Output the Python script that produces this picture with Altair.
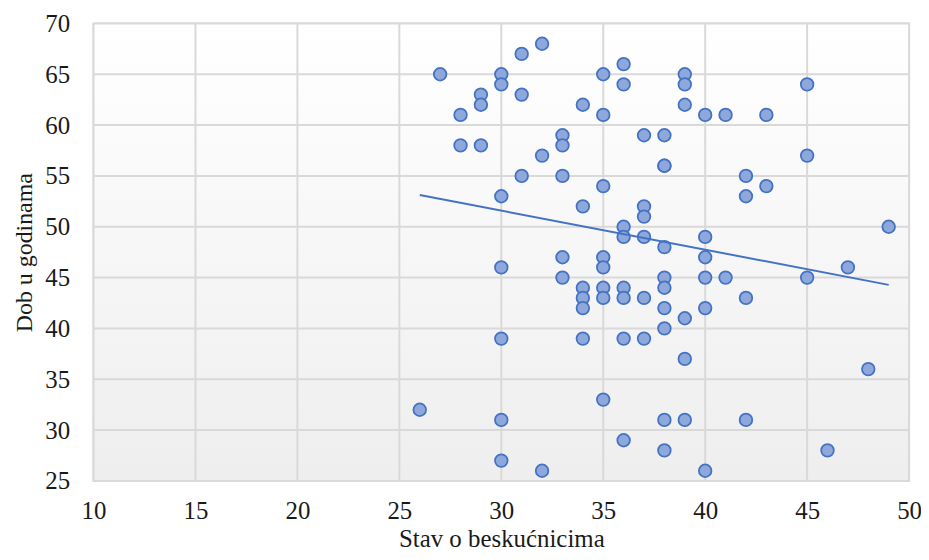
import altair as alt
import pandas as pd

# Stav o beskućnicima (x) and Dob u godinama (y)
stav = [27, 30, 30, 29, 29, 28, 28, 29, 31, 32, 31, 35, 36, 36, 34, 35,
        39, 39, 39, 40, 41, 43, 45, 33, 33, 32, 37, 38, 38, 38, 31, 33,
        35, 34, 30, 42, 42, 43, 45, 37, 37, 36, 36, 37, 38, 40, 40, 49,
        47, 45, 41, 40, 38, 38, 36, 35, 34, 34, 34, 35, 36, 37, 38, 42,
        40, 39, 38, 30, 33, 33, 35, 35, 30, 34, 36, 37, 39, 48, 26, 30,
        35, 36, 38, 39, 42, 30, 32, 38, 40, 46]
dob = [65, 65, 64, 63, 62, 61, 58, 58, 67, 68, 63, 65, 66, 64, 62, 61,
       65, 64, 62, 61, 61, 61, 64, 59, 58, 57, 59, 59, 56, 56, 55, 55,
       54, 52, 53, 55, 53, 54, 57, 52, 51, 50, 49, 49, 48, 49, 47, 50,
       46, 45, 45, 45, 45, 44, 44, 44, 44, 43, 42, 43, 43, 43, 42, 43,
       42, 41, 40, 46, 47, 45, 47, 46, 39, 39, 39, 39, 37, 36, 32, 31,
       33, 29, 31, 31, 31, 27, 26, 28, 26, 28]

x_ticks = [10, 15, 20, 25, 30, 35, 40, 45, 50]
y_ticks = [25, 30, 35, 40, 45, 50, 55, 60, 65, 70]

X_TITLE = "Stav o beskućnicima"
Y_TITLE = "Dob u godinama"

df = pd.DataFrame({"stav": stav, "dob": dob})

W, H = 820, 460
FONT = "Liberation Serif"
GRID = "#d9d9d9"

xs = alt.Scale(domain=[10, 50], nice=False, zero=False)
ys = alt.Scale(domain=[25, 70], nice=False, zero=False)
xaxis = alt.Axis(values=x_ticks, grid=False, labelFlush=False)
yaxis = alt.Axis(values=y_ticks, grid=False, labelFlush=False)

bg = alt.Chart(alt.Data(values=[{"a": 1}])).mark_rect(
    fill=alt.Gradient(
        gradient="linear",
        stops=[alt.GradientStop(color="#ffffff", offset=0),
               alt.GradientStop(color="#eeeeee", offset=1)],
        x1=0, x2=0, y1=0, y2=1,
    ),
    strokeWidth=0,
).encode(x=alt.value(0), x2=alt.value(W), y=alt.value(0), y2=alt.value(H))

grid_x = alt.Chart(pd.DataFrame({"gx": x_ticks})).mark_rule(
    color=GRID, strokeWidth=2
).encode(x=alt.X("gx:Q", scale=xs, title=X_TITLE, axis=xaxis))

grid_y = alt.Chart(pd.DataFrame({"gy": y_ticks})).mark_rule(
    color=GRID, strokeWidth=2
).encode(y=alt.Y("gy:Q", scale=ys, title=Y_TITLE, axis=yaxis))

base = alt.Chart(df)

points = base.mark_point(
    shape="circle", filled=True, size=160, fill="#8fa8dc", stroke="#4472c4",
    strokeWidth=1.8, opacity=1,
).encode(
    x=alt.X("stav:Q", scale=xs, title=X_TITLE, axis=xaxis),
    y=alt.Y("dob:Q", scale=ys, title=Y_TITLE, axis=yaxis),
)

trend = base.transform_regression("stav", "dob").mark_line(
    color="#4472c4", strokeWidth=2
).encode(
    x=alt.X("stav:Q", scale=xs, title=X_TITLE, axis=xaxis),
    y=alt.Y("dob:Q", scale=ys, title=Y_TITLE, axis=yaxis),
)

chart = alt.layer(bg, grid_x, grid_y, points, trend).properties(
    width=W, height=H,
    autosize=alt.AutoSizeParams(type="none"),
    padding={"left": 86, "top": 14, "right": 12, "bottom": 76},
).configure_view(
    stroke=GRID, strokeWidth=2,
).configure_axis(
    labelFont=FONT, titleFont=FONT, labelFontSize=25,
    labelColor="#1a1a1a", titleColor="#1a1a1a", titleFontWeight="normal",
    domain=False, ticks=False, grid=False,
).configure_axisX(
    labelPadding=18, titlePadding=3, titleFontSize=25,
).configure_axisY(
    labelPadding=24, titlePadding=8, titleFontSize=24,
)

chart.save("out.html", embed_options={"renderer": "svg", "actions": False})
